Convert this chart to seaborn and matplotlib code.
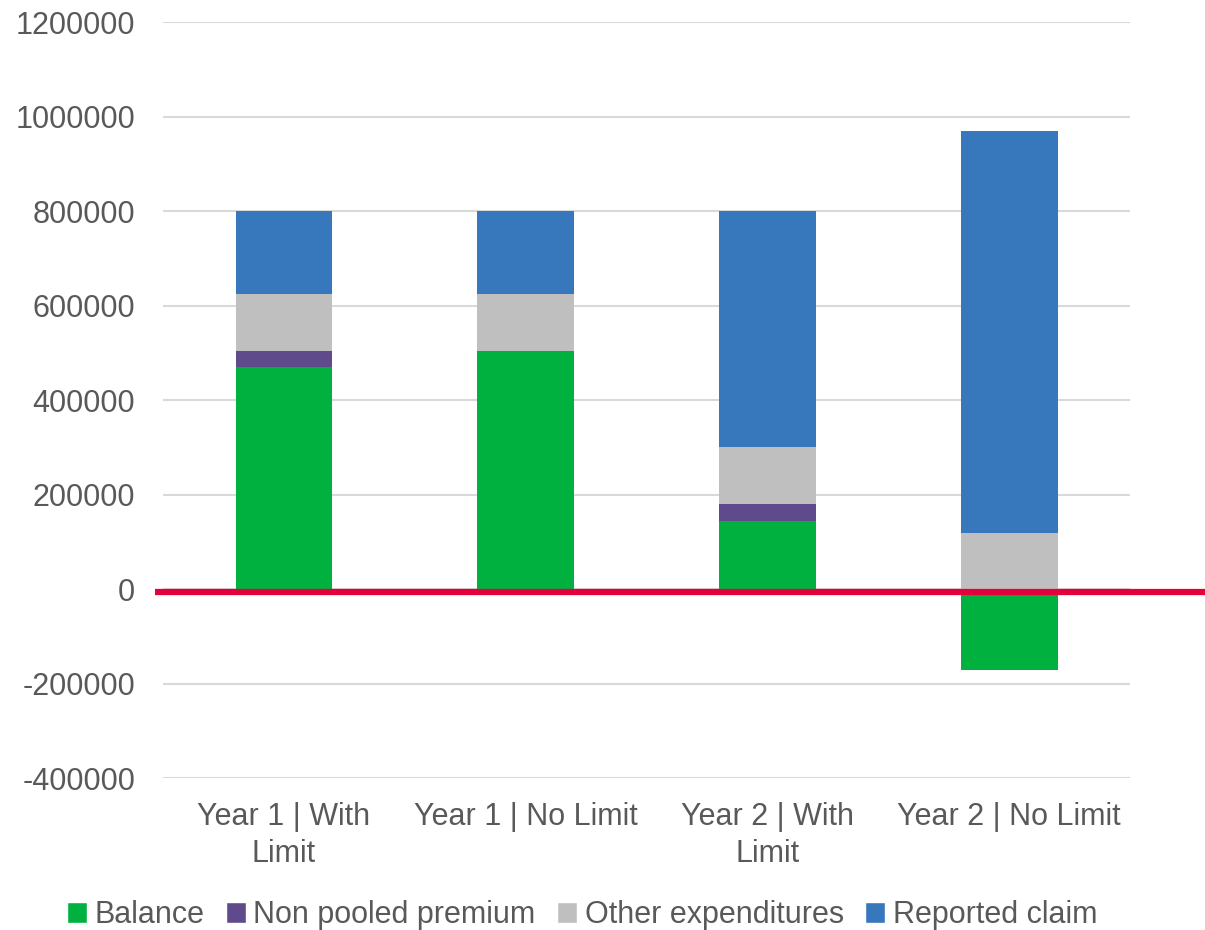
import numpy as np
import pandas as pd
import matplotlib
matplotlib.use('Agg')
import matplotlib.pyplot as plt
import seaborn as sns
from matplotlib.patches import Patch

# ── Data ──────────────────────────────────────────────────────────────────────
categories = ['Year 1 | With\nLimit', 'Year 1 | No Limit',
              'Year 2 | With\nLimit', 'Year 2 | No Limit']
balance      = [470000, 505000, 145000, -170000]
non_pooled   = [35000, 0, 35000, 0]
other_exp    = [120000, 120000, 120000, 120000]
reported     = [175000, 175000, 500000, 850000]

series_names  = ['Balance', 'Non pooled premium', 'Other expenditures', 'Reported claim']
series_colors = ['#00B140', '#5F4B8B', '#BFBFBF', '#3777BC']
y_ticks = [-400000, -200000, 0, 200000, 400000, 600000, 800000, 1000000, 1200000]

# ── Stack: positives pile up from zero, negatives hang below ──────────────────
df = pd.DataFrame({'category': categories, 'Balance': balance,
                   'Non pooled premium': non_pooled,
                   'Other expenditures': other_exp, 'Reported claim': reported})
pos = df[series_names].clip(lower=0).cumsum(axis=1)
neg = df[series_names].clip(upper=0).cumsum(axis=1)
tops = pos.where(df[series_names] >= 0, neg)

sns.set_style('white')
plt.rcParams['font.family'] = ['Liberation Sans', 'DejaVu Sans']
TXT = '#595959'
FS = 22

fig = plt.figure(figsize=(12.05, 9.3), dpi=100)
ax = fig.add_axes([0.1353, 0.1631, 0.9378 - 0.1353, 0.9763 - 0.1631])

# draw the tallest layer first so lower layers sit on top of it
for name, color in reversed(list(zip(series_names, series_colors))):
    sns.barplot(x=df['category'], y=tops[name], color=color, width=0.4,
                saturation=1, ax=ax, zorder=2, linewidth=0)

ax.set_ylim(-400000, 1200000)
ax.set_yticks(y_ticks)
ax.set_yticklabels([str(v) for v in y_ticks])
ax.set_xlim(-0.5, 3.5)
ax.set_xlabel('')
ax.set_ylabel('')
ax.grid(axis='y', color='#D9D9D9', linewidth=1.5, zorder=0)
ax.set_axisbelow(True)
for s in ax.spines.values():
    s.set_visible(False)
ax.tick_params(axis='y', length=0, pad=20, labelsize=FS, labelcolor=TXT)
ax.tick_params(axis='x', length=0, pad=17, labelsize=FS, labelcolor=TXT)
for lbl in ax.get_xticklabels():
    lbl.set_linespacing(1.3)

# red zero line, running past the right edge of the plot area
ax.plot([-0.535, 4.3], [-5000, -5000], color='#E4003B', linewidth=4.5,
        clip_on=False, zorder=3, solid_capstyle='butt')

handles = [Patch(facecolor=c, label=n) for n, c in zip(series_names, series_colors)]
fig.legend(handles=handles, loc='center', bbox_to_anchor=(0.483, 0.016), ncol=4,
           frameon=False, fontsize=FS, labelcolor=TXT, handlelength=0.65,
           handleheight=0.65, handletextpad=0.25, columnspacing=0.7)

fig.savefig('out.png', dpi=100)
